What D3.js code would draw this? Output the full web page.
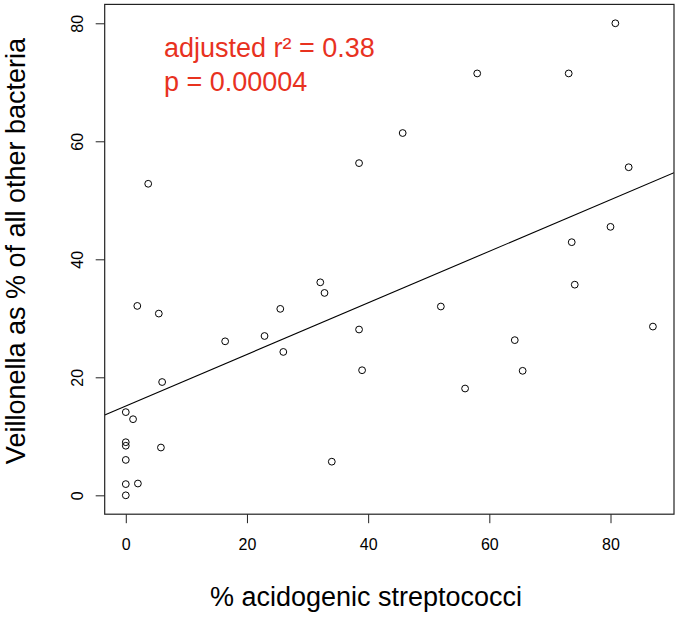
<!DOCTYPE html>
<html>
<head>
<meta charset="utf-8">
<script src="https://cdn.jsdelivr.net/npm/d3@7"></script>
<style>
  html, body { margin: 0; padding: 0; background: #fff; }
  svg { display: block; font-family: "Liberation Sans", Arial, sans-serif; }
</style>
</head>
<body>
<svg id="chart" width="679" height="618"></svg>
<script>
// % acidogenic streptococci
const streptococci = [3.7, 38.5, 80.8, 58.0, 73.1, 45.7, 83.0, 1.9, 5.45, 16.4, 22.9, 25.5,
  26.0, 32.1, 32.8, 38.5, 39.0, 6.0, 80.0, 73.6, 74.1, 52.0, 87.0, 64.2, 65.5, 56.0,
  0, 1.2, 0, 0, 5.8, 0, 0, 2.0, 0, 34.0];
// Veillonella as % of all other bacteria
const veillonella = [52.8, 56.3, 80.0, 71.5, 71.5, 61.4, 55.6, 32.1, 30.8, 26.1, 27.0, 31.6,
  24.3, 36.1, 34.3, 28.1, 21.2, 19.2, 45.5, 42.9, 35.7, 32.0, 28.6, 26.3, 21.1, 18.1,
  14.1, 12.9, 9.0, 8.4, 8.1, 6.0, 1.9, 2.0, 0, 5.7];
const xTicks = [0, 20, 40, 60, 80];
const yTicks = [0, 20, 40, 60, 80];
const fit = {intercept: 15.14, slope: 0.437};
const statLines = ['adjusted r\u00B2 = 0.38', 'p = 0.00004'];

const PLOT = {left: 104.7, right: 674, top: 4.4, bottom: 514.2};

const svg = d3.select('#chart');

// R style: pad the data range by 4% on each side
const xPad = (d3.max(streptococci) - d3.min(streptococci)) * 0.04;
const yPad = (d3.max(veillonella) - d3.min(veillonella)) * 0.04;
const x = d3.scaleLinear()
  .domain([d3.min(streptococci) - xPad, d3.max(streptococci) + xPad])
  .range([PLOT.left, PLOT.right]);
const y = d3.scaleLinear()
  .domain([d3.min(veillonella) - yPad, d3.max(veillonella) + yPad])
  .range([PLOT.bottom, PLOT.top]);

svg.append('defs').append('clipPath').attr('id', 'plot-clip')
  .append('rect')
  .attr('x', PLOT.left).attr('y', PLOT.top)
  .attr('width', PLOT.right - PLOT.left).attr('height', PLOT.bottom - PLOT.top);

// x axis
const xAxis = svg.append('g')
  .attr('transform', `translate(0,${PLOT.bottom})`)
  .call(d3.axisBottom(x).tickValues(xTicks).tickSize(9).tickSizeOuter(0).tickPadding(15));
xAxis.select('.domain').remove();
xAxis.selectAll('line').attr('stroke', '#222');
xAxis.selectAll('text').attr('font-size', 16).attr('fill', '#000')
  .attr('font-family', '"Liberation Sans", Arial, sans-serif');

// y axis (labels rotated like R's default las = 0)
const yAxis = svg.append('g')
  .attr('transform', `translate(${PLOT.left},0)`)
  .call(d3.axisLeft(y).tickValues(yTicks).tickSize(9).tickSizeOuter(0));
yAxis.select('.domain').remove();
yAxis.selectAll('line').attr('stroke', '#222');
yAxis.selectAll('text')
  .attr('transform', 'rotate(-90)')
  .attr('x', 0).attr('y', -22).attr('dy', 0)
  .attr('text-anchor', 'middle')
  .attr('font-size', 16).attr('fill', '#000')
  .attr('font-family', '"Liberation Sans", Arial, sans-serif');

// regression line
const xd = x.domain();
svg.append('line')
  .attr('clip-path', 'url(#plot-clip)')
  .attr('x1', x(xd[0])).attr('y1', y(fit.intercept + fit.slope * xd[0]))
  .attr('x2', x(xd[1])).attr('y2', y(fit.intercept + fit.slope * xd[1]))
  .attr('stroke', '#000').attr('stroke-width', 1.1);

// points
svg.append('g').selectAll('circle')
  .data(streptococci.map((v, i) => ({x: v, y: veillonella[i]})))
  .join('circle')
  .attr('cx', (d) => x(d.x))
  .attr('cy', (d) => y(d.y))
  .attr('r', 3.4)
  .attr('fill', 'none')
  .attr('stroke', '#000')
  .attr('stroke-width', 1);

// box
svg.append('rect')
  .attr('x', PLOT.left).attr('y', PLOT.top)
  .attr('width', PLOT.right - PLOT.left).attr('height', PLOT.bottom - PLOT.top)
  .attr('fill', 'none').attr('stroke', '#222').attr('stroke-width', 1.2);

// stats annotation
svg.append('g').selectAll('text')
  .data(statLines)
  .join('text')
  .attr('x', 164)
  .attr('y', (d, i) => 56.5 + i * 34)
  .attr('font-size', 27)
  .attr('fill', '#e8321f')
  .text((d) => d);

// axis titles
svg.append('text')
  .attr('x', 366).attr('y', 606)
  .attr('text-anchor', 'middle')
  .attr('font-size', 27)
  .attr('fill', '#000')
  .text('% acidogenic streptococci');

svg.append('text')
  .attr('transform', 'translate(25,251) rotate(-90)')
  .attr('text-anchor', 'middle')
  .attr('font-size', 27)
  .attr('fill', '#000')
  .text('Veillonella as % of all other bacteria');
</script>
</body>
</html>
